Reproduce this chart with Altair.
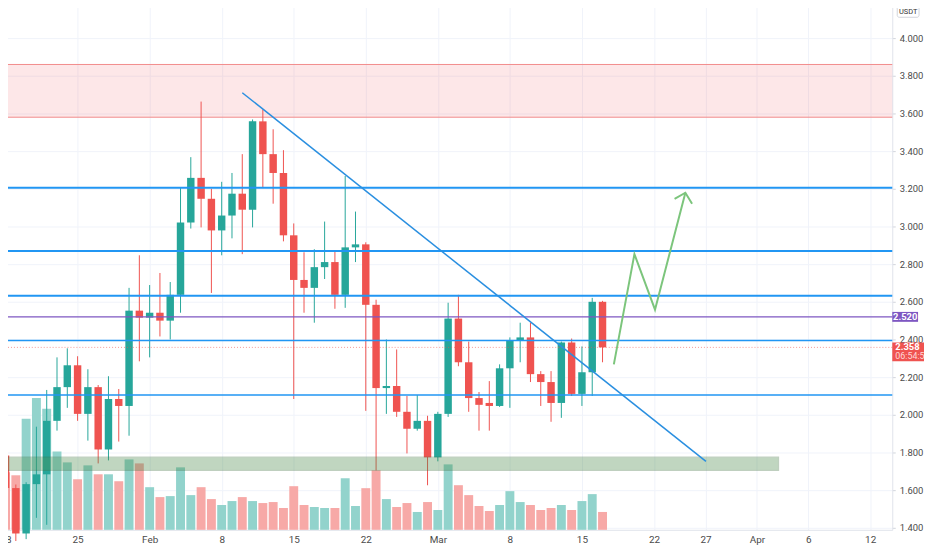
import altair as alt
import pandas as pd

# ---------------- data ----------------
dates = pd.date_range("2021-01-18", "2021-03-17", freq="D")
opens = [1.784, 1.611, 1.370, 1.632, 1.684, 1.968, 2.147, 2.263, 2.005, 2.147,
         1.816, 2.084, 2.047, 2.553, 2.516, 2.542, 2.500, 2.637, 3.021, 3.258,
         3.147, 2.979, 3.058, 3.174, 3.089, 3.558, 3.384, 3.284, 2.953, 2.716,
         2.674, 2.784, 2.811, 2.637, 2.889, 2.905, 2.584, 2.142, 2.153, 2.016,
         1.926, 1.968, 1.774, 2.005, 2.511, 2.279, 2.089, 2.063, 2.047, 2.247,
         2.395, 2.411, 2.216, 2.174, 2.063, 2.384, 2.111, 2.226, 2.600]
closes = [1.611, 1.370, 1.632, 1.684, 1.968, 2.147, 2.263, 2.005, 2.147, 1.816,
          2.084, 2.047, 2.553, 2.516, 2.542, 2.500, 2.637, 3.021, 3.258, 3.147,
          2.979, 3.058, 3.174, 3.089, 3.558, 3.384, 3.284, 2.953, 2.716, 2.674,
          2.784, 2.811, 2.637, 2.889, 2.905, 2.584, 2.142, 2.153, 2.016, 1.926,
          1.968, 1.774, 2.005, 2.511, 2.279, 2.089, 2.053, 2.047, 2.247, 2.395,
          2.411, 2.216, 2.174, 2.063, 2.384, 2.111, 2.226, 2.600, 2.358]
highs = [1.870, 1.630, 1.642, 1.937, 2.132, 2.305, 2.353, 2.311, 2.242, 2.158,
         2.205, 2.137, 2.674, 2.847, 2.689, 2.753, 2.705, 3.205, 3.368, 3.663,
         3.200, 3.237, 3.284, 3.384, 3.568, 3.621, 3.516, 3.405, 3.016, 2.863,
         2.879, 3.026, 2.874, 3.268, 3.079, 2.916, 2.611, 2.400, 2.347, 2.100,
         2.105, 1.995, 2.016, 2.595, 2.637, 2.389, 2.121, 2.179, 2.268, 2.411,
         2.489, 2.489, 2.232, 2.232, 2.389, 2.405, 2.363, 2.621, 2.605]
lows = [1.580, 1.330, 1.340, 1.453, 1.416, 1.916, 2.037, 1.968, 1.863, 1.742,
        1.758, 1.858, 1.889, 2.284, 2.305, 2.416, 2.400, 2.542, 2.989, 2.995,
        2.647, 2.847, 2.937, 2.853, 2.995, 3.205, 3.121, 2.921, 2.084, 2.542,
        2.489, 2.721, 2.563, 2.568, 2.811, 2.021, 1.705, 2.005, 1.989, 1.795,
        1.916, 1.626, 1.753, 1.989, 2.258, 2.016, 1.916, 1.916, 2.042, 2.037,
        2.279, 2.174, 2.047, 1.963, 1.984, 2.100, 2.047, 2.100, 2.279]
volumes = [5.8, 5.5, 11.2, 13.3, 12.2, 7.9, 6.8, 5.1, 6.5, 5.6,
           5.6, 4.9, 7.1, 6.7, 4.3, 3.3, 3.4, 6.3, 3.5, 4.3,
           3.1, 2.5, 2.9, 3.3, 2.9, 2.7, 2.8, 2.2, 4.4, 2.5,
           2.3, 2.2, 2.2, 5.2, 2.4, 4.2, 6.0, 3.1, 2.3, 2.7,
           1.8, 2.8, 2.0, 6.6, 4.5, 3.5, 2.4, 1.9, 2.5, 3.9,
           2.8, 2.5, 2.0, 2.2, 2.5, 2.0, 2.9, 3.6, 1.8]

tick_days = [0, 7, 14, 21, 28, 35, 42, 49, 56, 63, 68, 73, 78, 84]
tick_labels = ["18", "25", "Feb", "8", "15", "22", "Mar", "8", "15", "22", "27", "Apr", "6", "12"]
price_ticks = [1.4, 1.6, 1.8, 2.0, 2.2, 2.4, 2.6, 2.8, 3.0, 3.2, 3.4, 3.6, 3.8, 4.0]

levels = [3.205, 2.870, 2.632, 2.395, 2.105]
level_widths = [2, 2, 2, 1.5, 1.5]
pivot_level = 2.52
last_price = 2.358
countdown = "06:54:58"

resistance_zone = [3.58, 3.86]
support_zone = [1.705, 1.775]
support_zone_end_day = 75.1

trend_days = [23.0, 68.05]
trend_prices = [3.71, 1.753]

arrow_days = [59.1, 61.1, 63.1, 66.05]
arrow_prices = [2.268, 2.853, 2.558, 3.179]
head_days = [65.0, 66.05, 66.7]
head_prices = [3.147, 3.179, 3.121]

# ---------------- frames ----------------
df = pd.DataFrame({
    "d": list(range(len(dates))),
    "date": dates.strftime("%Y-%m-%d"),
    "open": opens, "high": highs, "low": lows, "close": closes,
    "volume": volumes,
})
df["dir"] = ["up" if c >= o else "down" for o, c in zip(opens, closes)]

W, H = 900, 532
x_dom = [-0.05, 85.67]
y_dom = [1.3895, 4.1895]
xs = alt.Scale(domain=x_dom, nice=False, zero=False)
ys = alt.Scale(domain=y_dom, nice=False, zero=False)

UP, DOWN = "#26a69a", "#ef5350"
FONT = "Roboto"

label_expr = " : ".join(f"datum.value == {d} ? '{l}'" for d, l in zip(tick_days, tick_labels)) + " : ''"

x_axis = alt.Axis(values=tick_days, labelExpr=label_expr, grid=True, gridColor="#f0f3fa",
                  ticks=False, domainColor="#e0e3eb", labelColor="#4a4a4a", labelFont=FONT,
                  labelFontSize=10, labelPadding=5, title=None, labelFlush=False,
                  labelOverlap=False)
y_axis = alt.Axis(orient="right", values=price_ticks, format=".3f", grid=True,
                  gridColor="#f0f3fa", tickSize=3, tickColor="#d1d4dc",
                  domainColor="#e0e3eb", labelColor="#4a4a4a", labelFont=FONT,
                  labelFontSize=9.5, labelPadding=4, title=None)

base = alt.Chart(df)

# resistance zone (full width)
rz = pd.DataFrame({"lo": [resistance_zone[0]], "hi": [resistance_zone[1]]})
res_rect = alt.Chart(rz).mark_rect(color="#f23645", opacity=0.12).encode(
    x=alt.value(0), x2=alt.value(W),
    y=alt.Y("hi:Q", scale=ys, axis=y_axis), y2="lo:Q")
res_edges = alt.Chart(pd.DataFrame({"p": resistance_zone})).mark_rule(
    color="#f28b8b", strokeWidth=1).encode(y=alt.Y("p:Q", scale=ys))

# volume
vol = base.mark_bar(size=9).encode(
    x=alt.X("d:Q", scale=xs, axis=x_axis),
    y=alt.Y("volume:Q", scale=alt.Scale(domain=[0, 53.2], nice=False), axis=None),
    color=alt.Color("dir:N", scale=alt.Scale(domain=["up", "down"], range=["#92d3cc", "#f7a9a7"]), legend=None),
)

# candles
wicks = base.mark_rule(strokeWidth=1).encode(
    x=alt.X("d:Q", scale=xs),
    y=alt.Y("low:Q", scale=ys), y2="high:Q",
    color=alt.Color("dir:N", scale=alt.Scale(domain=["up", "down"], range=[UP, DOWN]), legend=None),
)
bodies = base.mark_bar(size=7.5).encode(
    x=alt.X("d:Q", scale=xs),
    y=alt.Y("open:Q", scale=ys), y2="close:Q",
    color=alt.Color("dir:N", scale=alt.Scale(domain=["up", "down"], range=[UP, DOWN]), legend=None),
)

# horizontal levels
lv = pd.DataFrame({"p": levels, "w": level_widths})
level_rules = alt.Chart(lv).mark_rule(color="#2196f3").encode(
    y=alt.Y("p:Q", scale=ys), strokeWidth=alt.StrokeWidth("w:Q", scale=None))
pivot_rule = alt.Chart(pd.DataFrame({"p": [pivot_level]})).mark_rule(
    color="#7e57c2", strokeWidth=1.5).encode(y=alt.Y("p:Q", scale=ys))
last_rule = alt.Chart(pd.DataFrame({"p": [last_price]})).mark_rule(
    color="#ef5350", strokeWidth=1, strokeDash=[1, 2], opacity=0.6).encode(y=alt.Y("p:Q", scale=ys))

# support zone
sz = pd.DataFrame({"x0": [x_dom[0]], "x1": [support_zone_end_day],
                   "lo": [support_zone[0]], "hi": [support_zone[1]]})
sup_rect = alt.Chart(sz).mark_rect(color="#4c8c4c", opacity=0.35, stroke="#3f6f3f",
                                   strokeWidth=1.2, strokeOpacity=0.9).encode(
    x=alt.X("x0:Q", scale=xs), x2="x1:Q",
    y=alt.Y("hi:Q", scale=ys), y2="lo:Q")

# trend line
tl = pd.DataFrame({"d": trend_days, "p": trend_prices})
trend = alt.Chart(tl).mark_line(color="#2a8fe0", strokeWidth=1.5).encode(
    x=alt.X("d:Q", scale=xs), y=alt.Y("p:Q", scale=ys))

# projected path arrow
ap = pd.DataFrame({
    "d": arrow_days + head_days,
    "p": arrow_prices + head_prices,
    "seg": ["path"] * len(arrow_days) + ["head"] * len(head_days),
    "o": list(range(len(arrow_days))) + list(range(len(head_days))),
})
arrow = alt.Chart(ap).mark_line(color="#7cc57c", strokeWidth=2).encode(
    x=alt.X("d:Q", scale=xs), y=alt.Y("p:Q", scale=ys),
    detail="seg:N", order="o:Q")

# price tags on the axis
pt = pd.DataFrame({"p": [pivot_level], "t": [f"{pivot_level:.3f}"]})
pivot_tag = alt.Chart(pt).transform_calculate(
    top="datum.p + 5/190", bot="datum.p - 5/190").mark_rect(color="#7e57c2").encode(
    x=alt.value(900), x2=alt.value(926), y=alt.Y("top:Q", scale=ys), y2="bot:Q")
pivot_txt = alt.Chart(pt).mark_text(color="white", font=FONT, fontSize=9.5, fontWeight="bold",
                                    align="center", baseline="middle").encode(
    x=alt.value(913), y=alt.Y("p:Q", scale=ys), text="t:N")

lt = pd.DataFrame({"p": [last_price], "t": [f"{last_price:.3f}"], "c": [countdown]})
last_tag = alt.Chart(lt).transform_calculate(
    top="datum.p + 5/190", bot="datum.p - 14/190").mark_rect(color="#ef5350").encode(
    x=alt.value(900), x2=alt.value(934), y=alt.Y("top:Q", scale=ys), y2="bot:Q")
last_txt = alt.Chart(lt).mark_text(color="white", font=FONT, fontSize=9.5, fontWeight="bold",
                                   align="left", baseline="middle").encode(
    x=alt.value(903), y=alt.Y("p:Q", scale=ys), text="t:N")
cd_txt = alt.Chart(lt).transform_calculate(q="datum.p - 9/190").mark_text(
    color="#ffd9d8", font=FONT, fontSize=9, align="left", baseline="middle").encode(
    x=alt.value(903), y=alt.Y("q:Q", scale=ys), text="c:N")

# currency box
cur = pd.DataFrame({"t": ["USDT"]})
cur_box = alt.Chart(cur).mark_rect(fill="white", stroke="#d1d4dc", strokeWidth=1, cornerRadius=2).encode(
    x=alt.value(905), x2=alt.value(927), y=alt.value(4), y2=alt.value(15))
cur_txt = alt.Chart(cur).mark_text(font=FONT, fontSize=7.5, color="#333333", align="center",
                                   baseline="middle").encode(
    x=alt.value(916), y=alt.value(9.8), text="t:N")

price_layers = alt.layer(res_rect, res_edges, wicks, bodies, level_rules, pivot_rule,
                         last_rule, sup_rect, trend, arrow, pivot_tag, pivot_txt,
                         last_tag, last_txt, cd_txt, cur_box, cur_txt)

chart = alt.layer(vol, price_layers).resolve_scale(y="independent", color="independent").properties(
    width=W, height=H,
    padding={"left": -8, "top": -8, "right": 32, "bottom": 18},
    autosize="none",
    background="white",
).configure_view(stroke=None)

chart.save("out.html", embed_options={"renderer": "svg", "actions": False})
